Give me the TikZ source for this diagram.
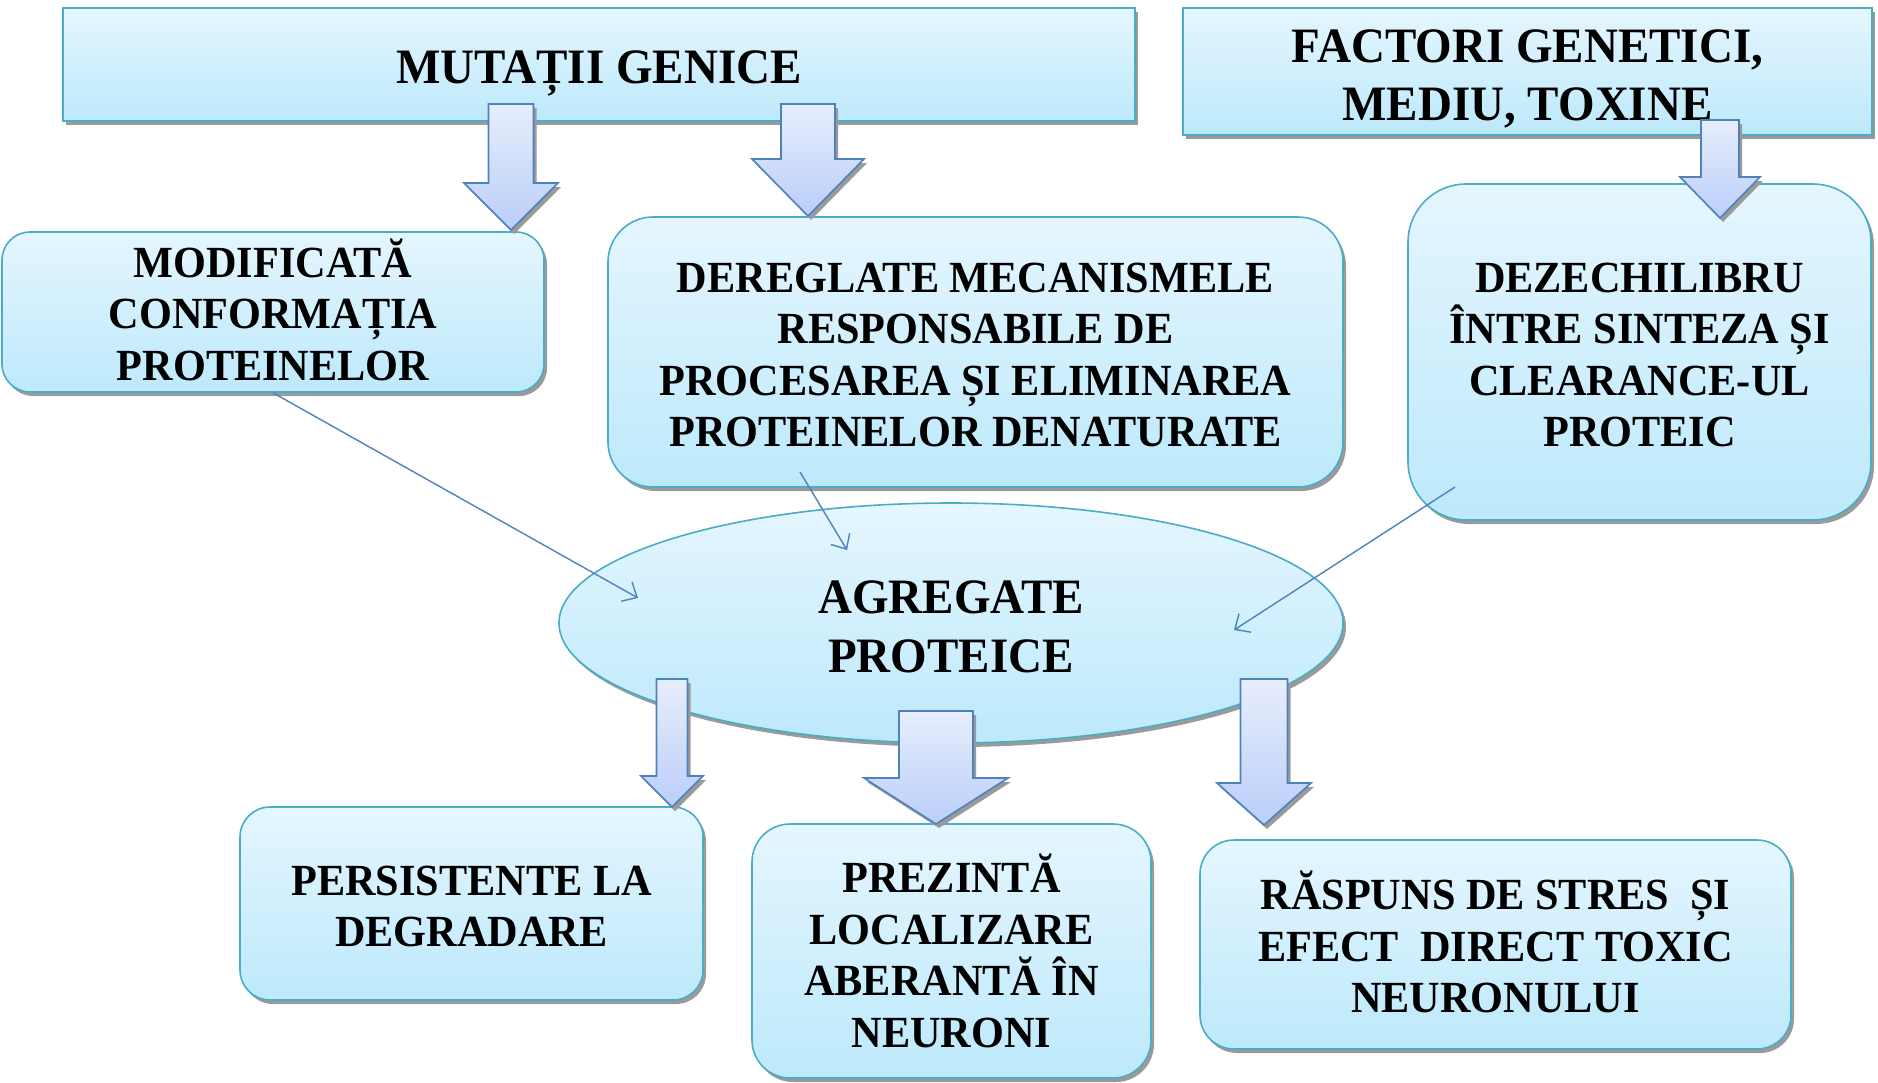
\documentclass[tikz,border=0pt]{standalone}
\usepackage{fontspec}
\setmainfont{Liberation Serif}
\newfontfamily\condfont[FakeStretch=0.95]{Liberation Serif}
\usetikzlibrary{shapes.geometric,shadows,arrows.meta}
\definecolor{boxtop}{HTML}{E5F6FE}
\definecolor{boxbot}{HTML}{BDE9FC}
\definecolor{boxline}{HTML}{4BACC6}
\definecolor{arrtop}{HTML}{E7EEFC}
\definecolor{arrbot}{HTML}{BACEF9}
\definecolor{arrline}{HTML}{4F81BD}
\definecolor{shadowgray}{HTML}{9A9A9A}
\newcommand{\blkarrow}[6]{%
  \path[blockarrow] ({#1-#5},#2) -- ({#1+#5},#2) -- ({#1+#5},#3) -- ({#1+#6},#3)
    -- (#1,#4) -- ({#1-#6},#3) -- ({#1-#5},#3) -- cycle;}
\tikzset{
  shadowed/.style={drop shadow={shadow xshift=3pt,shadow yshift=-4pt,fill=shadowgray,opacity=1}},
  topbox/.style={shadowed,draw=boxline,line width=1.6pt,top color=boxtop,bottom color=boxbot,
    rectangle,inner sep=0pt},
  ovalbox/.style={topbox,ellipse},
  titletext/.style={inner sep=0pt,align=center,font=\condfont\fontsize{49.5}{58.5}\selectfont\bfseries},
  bodytext/.style={inner sep=0pt,align=center,font=\condfont\fontsize{44.5}{51.5}\selectfont\bfseries},
  blockarrow/.style={shadowed,draw=arrline,line width=1.6pt,top color=arrtop,bottom color=arrbot,line join=miter},
  thinarrow/.style={draw=arrline,line width=1.4pt,-{Straight Barb[length=12pt,width=22pt,line width=1.4pt]}}
}
\begin{document}
\begin{tikzpicture}[x=1pt,y=-1pt]
\useasboundingbox (0,0) rectangle (1878,1082);
% top boxes
\node[topbox,minimum width=1072,minimum height=113] (mut) at (599,64.5) {};
\node[titletext] (mutt) at (599,73) {MUTAȚII GENICE};
\node[topbox,minimum width=689,minimum height=127] (fac) at (1527.5,71.5) {};
\node[titletext] (fact) at (1527.5,79) {FACTORI GENETICI,\\MEDIU, TOXINE};
% middle boxes
\node[topbox,rounded corners=28pt,minimum width=542,minimum height=160] (mod) at (273,312) {};
\node[bodytext] (modt) at (273,309.5) {MODIFICATĂ\\CONFORMAȚIA\\PROTEINELOR};
\node[topbox,rounded corners=45pt,minimum width=735,minimum height=270] (der) at (975.5,352) {};
\node[bodytext] (dert) at (975.5,355) {DEREGLATE MECANISMELE\\RESPONSABILE DE\\PROCESAREA ȘI ELIMINAREA\\PROTEINELOR DENATURATE};
\node[topbox,rounded corners=58pt,minimum width=463,minimum height=336] (dez) at (1639.5,352) {};
\node[bodytext] (dezt) at (1639.5,355) {DEZECHILIBRU\\ÎNTRE SINTEZA ȘI\\CLEARANCE-UL\\PROTEIC};
% ellipse
\node[ovalbox,minimum width=784,minimum height=240] (agr) at (951,623) {};
\node[titletext] (agrt) at (951,627) {AGREGATE\\PROTEICE};
% bottom boxes
\node[topbox,rounded corners=30pt,minimum width=463,minimum height=193] (per) at (471.5,903.5) {};
\node[bodytext] (pert) at (471.5,906.5) {PERSISTENTE LA\\DEGRADARE};
\node[topbox,rounded corners=38pt,minimum width=399,minimum height=254] (pre) at (951.5,951) {};
\node[bodytext] (pret) at (951.5,951) {PREZINTĂ\\LOCALIZARE\\ABERANTĂ ÎN\\NEURONI};
\node[topbox,rounded corners=34pt,minimum width=591,minimum height=209] (ras) at (1495.5,944.5) {};
\node[bodytext] (rast) at (1495.5,942) {RĂSPUNS DE STRES\ \ ȘI\\EFECT\ \ DIRECT TOXIC\\NEURONULUI};
% block arrows
\blkarrow{511}{104}{183}{230}{22.5}{47}
\blkarrow{808}{104}{159}{216}{27}{56}
\blkarrow{1720}{120}{177}{218}{19}{40}
\blkarrow{672}{679}{776}{807}{15.5}{31}
\blkarrow{936}{711}{778}{824}{37}{72}
\blkarrow{1264}{679}{783}{825}{23.5}{47}
% thin connectors
\coordinate (e1) at (638,598);
\coordinate (s2) at (800,472);
\coordinate (e2) at (847,550);
\coordinate (s3) at (1455,487);
\coordinate (e3) at (1234,630);
\draw[thinarrow] (mod.south) -- (e1);
\draw[thinarrow] (s2) -- (e2);
\draw[thinarrow] (s3) -- (e3);
\end{tikzpicture}
\end{document}
